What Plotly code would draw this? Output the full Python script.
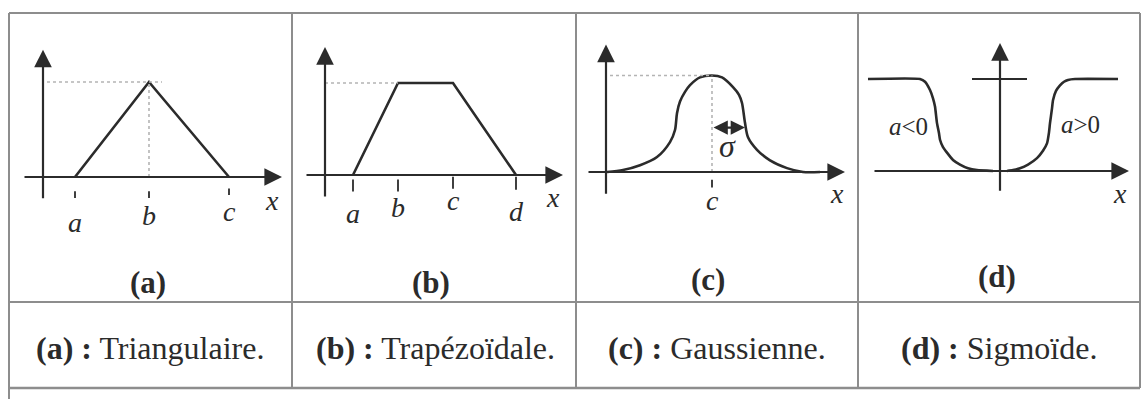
import plotly.graph_objects as go

# ---- data (x in panel units, membership degree mu in [0, 1]) ----
tri_labels = ["a", "b", "c"]
tri_x = [3.2, 10.6, 18.6]
tri_mu = [0, 1, 0]

trap_labels = ["a", "b", "c", "d"]
trap_x = [2.8, 7.3, 12.8, 19.1]
trap_mu = [0, 1, 1, 0]

gauss_c = 10.6
gauss_sigma = 3.3
gauss_x = [0.1, 1.7, 3.4, 5.1, 6.4, 6.9, 7.1, 7.4, 7.9, 8.4, 9.4, 10.6,
           11.6, 12.7, 13.3, 13.6, 13.9, 14.2, 15.1, 16.4, 18.1, 19.7, 21.4]
gauss_mu = [0.0, 0.02, 0.07, 0.155, 0.31, 0.435, 0.61, 0.73, 0.83, 0.90, 0.98, 1.0,
            0.98, 0.88, 0.80, 0.715, 0.51, 0.36, 0.23, 0.12, 0.04, 0.0, 0.0]

sig_neg_x = [-13.2, -8.0, -7.5, -7.0, -6.7, -6.5, -6.3, -6.1, -6.0, -5.7,
             -5.3, -4.7, -4.0, -3.2, -2.3, -0.7]
sig_neg_mu = [1.0, 1.0, 0.97, 0.88, 0.79, 0.70, 0.52, 0.41, 0.34, 0.26,
              0.20, 0.12, 0.07, 0.03, 0.01, 0.0]
sig_pos_x = [0.7, 1.3, 2.0, 2.8, 3.7, 4.3, 4.7, 4.9, 5.0, 5.2, 5.3, 5.6,
             6.0, 6.4, 6.8, 7.5, 11.8]
sig_pos_mu = [0.0, 0.01, 0.03, 0.07, 0.14, 0.22, 0.30, 0.42, 0.52, 0.68, 0.77, 0.87,
              0.93, 0.97, 0.99, 1.0, 1.0]

panel_titles = ["(a)", "(b)", "(c)", "(d)"]
panel_names = ["Triangulaire.", "Trapézoïdale.", "Gaussienne.", "Sigmoïde."]

# ---- page geometry (pixels) ----
W, H = 1144, 399
INK = "#2b2b2b"
GRID = "#8d8d8d"
DOT = "#b4b4b4"
SERIF = "Liberation Serif, Times New Roman, serif"

cells = [(9, 292), (292, 576), (576, 858), (858, 1140)]
TOP, MID, BOT = 13, 302, 388
UNIT = 10.0  # pixels per x unit

# origin (y-axis x pixel, x-axis y pixel) and pixels per membership unit
origins = [(43, 177, 95.0), (325, 175, 92.0), (606, 172, 96.5), (1000, 171, 92.0)]


def px(x):
    return x / W


def py(y):
    return 1 - y / H


fig = go.Figure()
layout = dict(
    width=W, height=H, margin=dict(l=0, r=0, t=0, b=0),
    paper_bgcolor="white", plot_bgcolor="rgba(0,0,0,0)",
    showlegend=False,
)

for i, ((c0, c1), (ox, oy, ky)) in enumerate(zip(cells, origins)):
    sfx = "" if i == 0 else str(i + 1)
    layout["xaxis" + sfx] = dict(
        domain=[px(c0), px(c1)], range=[(c0 - ox) / UNIT, (c1 - ox) / UNIT],
        visible=False, fixedrange=True, anchor="y" + sfx,
    )
    layout["yaxis" + sfx] = dict(
        domain=[py(MID), py(TOP)], range=[(oy - MID) / ky, (oy - TOP) / ky],
        visible=False, fixedrange=True, anchor="x" + sfx,
    )

fig.update_layout(**layout)

annotations = []
shapes = []


def ref(i):
    return ("x", "y") if i == 0 else ("x%d" % (i + 1), "y%d" % (i + 1))


def arrow(i, x0, y0, x1, y1, side="end", width=2.2, size=1.6, color=INK):
    xr, yr = ref(i)
    annotations.append(dict(
        x=x1, y=y1, ax=x0, ay=y0, xref=xr, yref=yr, axref=xr, ayref=yr,
        text="", showarrow=True, arrowhead=2, arrowsize=size, arrowwidth=width,
        arrowcolor=color, arrowside=side, standoff=0, startstandoff=0,
    ))


def seg(i, x0, y0, x1, y1, color=INK, width=2.2, dash="solid"):
    xr, yr = ref(i)
    shapes.append(dict(type="line", xref=xr, yref=yr, x0=x0, y0=y0, x1=x1, y1=y1,
                       line=dict(color=color, width=width, dash=dash)))


def label(i, x, y, text, size=28):
    xr, yr = ref(i)
    annotations.append(dict(x=x, y=y, xref=xr, yref=yr, text=text, showarrow=False,
                            font=dict(family=SERIF, size=size, color=INK),
                            xanchor="center", yanchor="middle"))


def curve(i, xs, ys, shape="linear", smoothing=0.6):
    xr, yr = ref(i)
    fig.add_trace(go.Scatter(
        x=xs, y=ys, xaxis=xr, yaxis=yr, mode="lines", hoverinfo="skip",
        line=dict(color=INK, width=2.6, shape=shape, smoothing=smoothing),
    ))


# axes of each panel: (x-axis from, to) and (y-axis from, to)
axes_extent = [(-2.0, 23.9, -0.24, 1.34), (-2.0, 23.8, -0.25, 1.39),
               (-1.9, 23.9, -0.24, 1.32), (-12.7, 12.9, -0.23, 1.39)]
for i, (xa, xb, ya, yb) in enumerate(axes_extent):
    arrow(i, xa, 0, xb, 0)
    arrow(i, 0, ya, 0, yb)

# (a) triangular
curve(0, tri_x, tri_mu)
seg(0, 0.4, 1, 11.9, 1, color=DOT, width=1.6, dash="dot")
seg(0, tri_x[1], 0, tri_x[1], 1, color=DOT, width=1.6, dash="dot")
tick_a = [(-0.15, -0.22), (-0.15, -0.22), (-0.12, -0.19)]
lab_a = [-0.48, -0.41, -0.36]
for xv, name, (t0, t1), ly in zip(tri_x, tri_labels, tick_a, lab_a):
    seg(0, xv, t0, xv, t1, width=1.8)
    label(0, xv, ly, "<i>%s</i>" % name)
label(0, 22.9, -0.25, "<i>x</i>")

# (b) trapezoidal
curve(1, trap_x, trap_mu)
seg(1, 0, 1, trap_x[1], 1, color=DOT, width=1.6, dash="dot")
tick_b = [(-0.05, -0.18), (-0.05, -0.18), (-0.02, -0.15), (-0.02, -0.16)]
lab_b = [-0.42, -0.35, -0.28, -0.40]
for xv, name, (t0, t1), ly in zip(trap_x, trap_labels, tick_b, lab_b):
    seg(1, xv, t0, xv, t1, width=1.8)
    label(1, xv, ly, "<i>%s</i>" % name)
label(1, 22.8, -0.24, "<i>x</i>")

# (c) gaussian
curve(2, gauss_x, gauss_mu, shape="spline", smoothing=0.8)
seg(2, 0.4, 1, gauss_c, 1, color=DOT, width=1.6, dash="dot")
seg(2, gauss_c, 0, gauss_c, 1, color=DOT, width=1.6, dash="dot")
seg(2, gauss_c, -0.08, gauss_c, -0.16, width=1.8)
label(2, gauss_c, -0.30, "<i>c</i>")
label(2, 23.1, -0.22, "<i>x</i>")
arrow(2, gauss_c, 0.46, gauss_c + gauss_sigma, 0.46, side="end+start", width=2.2, size=1.3)
label(2, gauss_c + 1.5, 0.27, "<i>σ</i>", size=32)

# (d) sigmoid
curve(3, sig_neg_x, sig_neg_mu, shape="spline", smoothing=0.5)
curve(3, sig_pos_x, sig_pos_mu, shape="spline", smoothing=0.5)
seg(3, -2.8, 1, 2.7, 1, width=2.2)
label(3, -9.2, 0.48, "<i>a</i>&lt;0", size=25)
label(3, 8.0, 0.50, "<i>a</i>&gt;0", size=25)
label(3, 12.0, -0.24, "<i>x</i>")

# ---- table frame ----
def pline(x0, y0, x1, y1, width=2.0):
    shapes.append(dict(type="line", xref="paper", yref="paper",
                       x0=px(x0), y0=py(y0), x1=px(x1), y1=py(y1),
                       line=dict(color=GRID, width=width)))


pline(9, TOP, 1140, TOP)
pline(9, MID, 1140, MID)
pline(9, BOT, 1140, BOT, width=2.6)
pline(9, TOP, 9, H)
pline(1140, TOP, 1140, BOT)
for cx in (292, 576, 858):
    pline(cx, TOP, cx, BOT)

# panel titles and names
title_pos = [(148, 282), (431, 282), (708, 279), (997, 276)]
name_pos = [(150, 348), (436, 348), (717, 348), (999, 348)]
for t, n, (tx, ty), (nx, ny) in zip(panel_titles, panel_names, title_pos, name_pos):
    annotations.append(dict(x=px(tx), y=py(ty), xref="paper", yref="paper",
                            text="<b>%s</b>" % t, showarrow=False,
                            font=dict(family=SERIF, size=31, color=INK),
                            xanchor="center", yanchor="middle"))
    annotations.append(dict(x=px(nx), y=py(ny), xref="paper", yref="paper",
                            text="<b>%s :</b> %s" % (t, n), showarrow=False,
                            font=dict(family=SERIF, size=32, color=INK),
                            xanchor="center", yanchor="middle"))

fig.update_layout(annotations=annotations, shapes=shapes)
fig.write_html("out.html")
